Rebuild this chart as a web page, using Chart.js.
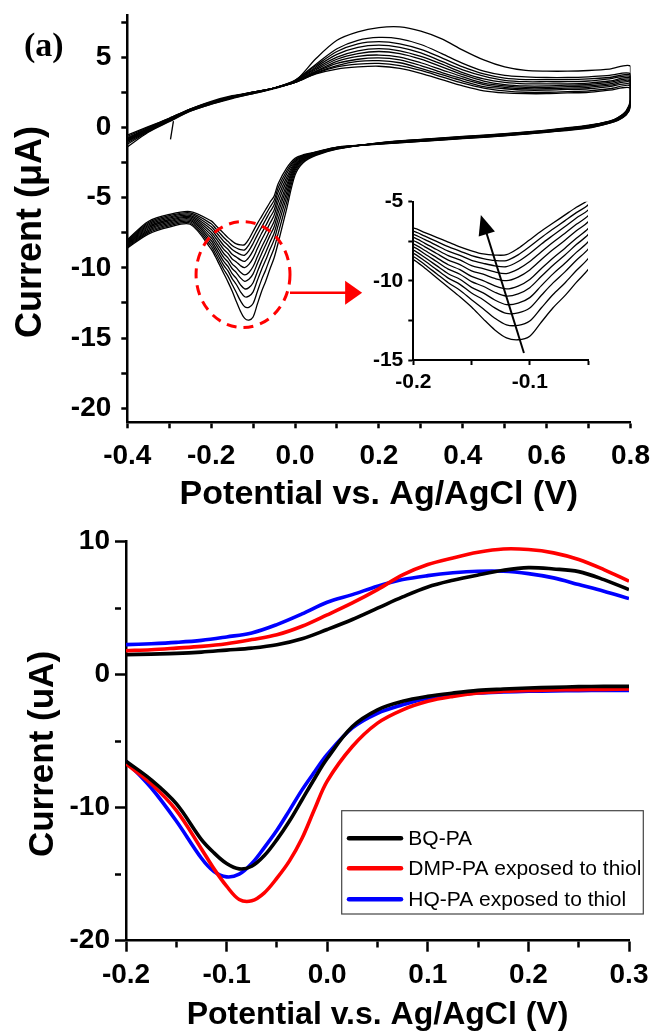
<!DOCTYPE html>
<html>
<head>
<meta charset="utf-8">
<script src="https://cdn.jsdelivr.net/npm/chart.js@4.4.1/dist/chart.umd.min.js"></script>
<style>
html,body{margin:0;padding:0;background:#fff;}
body{width:655px;height:1032px;position:relative;overflow:hidden;}
canvas{position:absolute;}
</style>
</head>
<body>
<canvas id="topChart" width="655" height="520" style="left:0;top:0"></canvas>
<canvas id="insetChart" width="260" height="210" style="left:340px;top:190px"></canvas>
<canvas id="bottomChart" width="655" height="512" style="left:0;top:520px"></canvas>
<script>
// ---------------- DATA: panel (a), repeated CV cycles ----------------
const topUpPotential = [-0.4,-0.35,-0.3,-0.25,-0.2,-0.15,-0.1,-0.05,0,0.05,0.1,0.15,0.2,0.25,0.3,0.35,0.4,0.45,0.5,0.55,0.6,0.65,0.7,0.75,0.8];
const topDownPotential = [0.8,0.79,0.77,0.75,0.7,0.6,0.5,0.4,0.3,0.2,0.1,0.05,0.02,0,-0.02,-0.04,-0.05,-0.06,-0.07,-0.08,-0.09,-0.1,-0.11,-0.12,-0.13,-0.14,-0.15,-0.16,-0.17,-0.18,-0.19,-0.2,-0.25,-0.3,-0.35,-0.4];

const cycleUpCurrents = [
  [-1.4,-0.35,0.4,1.15,1.65,2.05,2.4,2.75,3.3,4.9,6.2,6.8,7.1,7.15,6.85,6.3,5.5,4.8,4.3,4.05,4.0,4.0,4.05,4.15,4.35],
  [-1.2,-0.3,0.45,1.15,1.65,2.1,2.4,2.8,3.35,4.5,5.6,6.2,6.4,6.3,5.9,5.25,4.55,4.0,3.7,3.6,3.55,3.55,3.6,3.7,3.8],
  [-1.1,-0.25,0.45,1.2,1.7,2.1,2.45,2.8,3.35,4.4,5.4,5.95,6.1,5.95,5.55,4.95,4.3,3.8,3.5,3.4,3.4,3.4,3.45,3.55,3.7],
  [-1.0,-0.2,0.5,1.2,1.7,2.1,2.45,2.8,3.3,4.3,5.2,5.7,5.85,5.7,5.3,4.7,4.1,3.65,3.35,3.25,3.25,3.25,3.3,3.45,3.6],
  [-0.95,-0.2,0.5,1.2,1.7,2.15,2.45,2.8,3.3,4.2,5.0,5.45,5.6,5.45,5.05,4.5,3.9,3.45,3.2,3.1,3.1,3.1,3.15,3.3,3.5],
  [-0.9,-0.15,0.55,1.25,1.75,2.15,2.45,2.8,3.25,4.1,4.85,5.25,5.4,5.25,4.85,4.3,3.75,3.3,3.05,2.95,2.95,3.0,3.05,3.2,3.4],
  [-0.85,-0.1,0.55,1.25,1.75,2.15,2.5,2.8,3.25,4.0,4.7,5.05,5.15,5.0,4.6,4.1,3.6,3.15,2.95,2.85,2.85,2.9,2.95,3.1,3.3],
  [-0.8,-0.1,0.6,1.25,1.75,2.2,2.5,2.8,3.2,3.95,4.55,4.85,4.95,4.8,4.4,3.9,3.45,3.05,2.85,2.75,2.75,2.8,2.85,3.0,3.2],
  [-0.75,-0.05,0.6,1.3,1.8,2.2,2.5,2.8,3.2,3.9,4.4,4.7,4.75,4.6,4.2,3.75,3.3,2.9,2.75,2.65,2.65,2.7,2.75,2.9,3.05],
  [-0.65,0.0,0.65,1.3,1.8,2.2,2.5,2.8,3.2,3.85,4.3,4.5,4.55,4.4,4.05,3.6,3.15,2.8,2.6,2.5,2.5,2.55,2.6,2.75,2.95],
  [-0.55,0.05,0.65,1.3,1.85,2.25,2.5,2.8,3.2,3.8,4.15,4.3,4.35,4.2,3.85,3.4,2.95,2.6,2.45,2.4,2.4,2.45,2.5,2.65,2.8]
];

const cycleDownCurrents = [
  [2.0,1.2,0.7,0.45,0.15,-0.2,-0.45,-0.65,-0.85,-1.1,-1.55,-2.0,-2.5,-3.4,-5.8,-8.2,-9.3,-10.1,-10.95,-11.7,-12.6,-13.5,-13.72,-13.6,-13.1,-12.4,-11.65,-11.0,-10.4,-9.8,-9.2,-8.66,-6.9,-7.1,-7.6,-8.6],
  [1.9,1.15,0.68,0.43,0.13,-0.22,-0.47,-0.67,-0.87,-1.11,-1.53,-1.96,-2.41,-3.21,-5.34,-7.53,-8.61,-9.35,-10.15,-10.86,-11.7,-12.54,-12.81,-12.78,-12.36,-11.76,-11.19,-10.59,-10.12,-9.55,-8.98,-8.46,-6.81,-7.01,-7.51,-8.54],
  [1.85,1.12,0.66,0.42,0.12,-0.23,-0.48,-0.68,-0.88,-1.12,-1.52,-1.93,-2.34,-3.05,-4.95,-6.95,-8.01,-8.7,-9.45,-10.13,-10.91,-11.71,-12.02,-12.06,-11.71,-11.19,-10.77,-10.22,-9.83,-9.29,-8.75,-8.26,-6.72,-6.92,-7.42,-8.48],
  [1.8,1.1,0.64,0.4,0.1,-0.25,-0.5,-0.7,-0.9,-1.13,-1.5,-1.9,-2.28,-2.92,-4.64,-6.5,-7.54,-8.2,-8.91,-9.56,-10.3,-11.06,-11.41,-11.5,-11.21,-10.76,-10.41,-9.9,-9.55,-9.04,-8.53,-8.06,-6.63,-6.83,-7.33,-8.42],
  [1.75,1.07,0.62,0.39,0.08,-0.26,-0.51,-0.71,-0.91,-1.14,-1.48,-1.87,-2.22,-2.8,-4.34,-6.07,-7.09,-7.71,-8.38,-9.01,-9.71,-10.43,-10.82,-10.96,-10.72,-10.34,-10.05,-9.58,-9.26,-8.78,-8.3,-7.86,-6.54,-6.74,-7.24,-8.36],
  [1.7,1.04,0.6,0.37,0.06,-0.28,-0.53,-0.73,-0.93,-1.15,-1.47,-1.85,-2.18,-2.69,-4.09,-5.71,-6.71,-7.31,-7.95,-8.55,-9.22,-9.91,-10.33,-10.51,-10.32,-9.99,-9.72,-9.29,-8.98,-8.53,-8.08,-7.66,-6.45,-6.65,-7.15,-8.3],
  [1.65,1.01,0.58,0.36,0.04,-0.29,-0.54,-0.74,-0.94,-1.16,-1.46,-1.83,-2.12,-2.58,-3.81,-5.3,-6.28,-6.84,-7.45,-8.02,-8.65,-9.31,-9.76,-9.99,-9.85,-9.58,-9.37,-8.97,-8.69,-8.27,-7.85,-7.46,-6.36,-6.56,-7.06,-8.24],
  [1.6,0.98,0.56,0.34,0.02,-0.31,-0.56,-0.76,-0.96,-1.17,-1.45,-1.81,-2.07,-2.47,-3.56,-4.94,-5.9,-6.43,-7.01,-7.56,-8.16,-8.78,-9.26,-9.54,-9.44,-9.23,-9.04,-8.68,-8.41,-8.02,-7.63,-7.26,-6.27,-6.47,-6.97,-8.18],
  [1.55,0.95,0.54,0.33,0.0,-0.32,-0.57,-0.77,-0.97,-1.18,-1.43,-1.79,-2.03,-2.37,-3.31,-4.59,-5.53,-6.03,-6.58,-7.12,-7.67,-8.27,-8.78,-9.1,-9.05,-8.89,-8.7,-8.39,-8.12,-7.76,-7.4,-7.06,-6.18,-6.38,-6.88,-8.12],
  [1.5,0.92,0.52,0.31,-0.02,-0.34,-0.59,-0.79,-0.99,-1.19,-1.42,-1.77,-1.99,-2.29,-3.11,-4.29,-5.21,-5.69,-6.21,-6.73,-7.26,-7.83,-8.36,-8.72,-8.71,-8.59,-8.41,-8.12,-7.84,-7.51,-7.18,-6.86,-6.09,-6.29,-6.79,-8.06],
  [1.45,0.9,0.5,0.3,-0.05,-0.35,-0.6,-0.8,-1.0,-1.2,-1.4,-1.75,-1.95,-2.2,-2.9,-4.0,-4.9,-5.35,-5.85,-6.35,-6.85,-7.4,-7.95,-8.35,-8.37,-8.3,-8.1,-7.85,-7.55,-7.25,-6.95,-6.66,-6.0,-6.2,-6.7,-8.0]
];

const startStubPotential = [-0.297,-0.29];
const startStubCurrent = [-0.85,0.45];

// tick values for panel (a)
const topXRange = [-0.4, 0.8];
const topYRange = [-21, 8];
const insetXRange = [-0.2, -0.05];
const insetYRange = [-15, -5];

// annotations of panel (a), in data units
const circleCenter = [-0.124, -10.48];
const circleRadius = [0.112, 3.77];
const redArrowFrom = [-0.012, -11.77];
const redArrowTo = [0.160, -11.77];
const insetArrowFrom = [-0.105, -14.56];
const insetArrowTo = [-0.142, -5.84];

// ---------------- DATA: lower panel ----------------
const bottomUpPotential = [-0.2,-0.175,-0.15,-0.125,-0.1,-0.075,-0.05,-0.025,0,0.025,0.05,0.075,0.1,0.125,0.15,0.175,0.2,0.225,0.25,0.275,0.3];
const bottomDownPotential = [0.3,0.275,0.25,0.225,0.2,0.175,0.15,0.125,0.1,0.075,0.05,0.025,0,-0.0125,-0.025,-0.0375,-0.05,-0.0625,-0.075,-0.0875,-0.1,-0.1125,-0.125,-0.15,-0.175,-0.2];
const seriesNames = ['BQ-PA','DMP-PA exposed to thiol','HQ-PA exposed to thiol'];
const seriesColors = ['#000000','#ff0000','#0000ff'];
const bqUp = [1.5,1.55,1.6,1.7,1.85,2.0,2.25,2.7,3.4,4.15,5.0,5.85,6.6,7.1,7.5,7.85,8.05,7.95,7.75,7.15,6.4];
const bqDown = [-0.88,-0.88,-0.9,-0.95,-1.0,-1.08,-1.18,-1.38,-1.63,-2.0,-2.64,-3.9,-6.3,-7.8,-9.4,-11.0,-12.4,-13.6,-14.4,-14.6,-14.2,-13.4,-12.4,-9.7,-7.9,-6.5];
const dmpUp = [1.8,1.88,2.0,2.13,2.33,2.64,3.0,3.64,4.5,5.4,6.4,7.5,8.28,8.78,9.2,9.45,9.41,9.16,8.66,7.9,7.03];
const dmpDown = [-1.08,-1.1,-1.12,-1.15,-1.18,-1.25,-1.38,-1.63,-2.0,-2.64,-3.64,-5.4,-8.0,-10.1,-12.3,-14.0,-15.3,-16.4,-17.0,-16.9,-15.9,-14.6,-13.1,-10.2,-8.2,-6.7];
const hqUp = [2.26,2.33,2.43,2.58,2.84,3.14,3.77,4.57,5.45,6.02,6.65,7.15,7.45,7.66,7.78,7.78,7.6,7.28,6.78,6.28,5.72];
const hqDown = [-1.18,-1.18,-1.2,-1.22,-1.25,-1.3,-1.38,-1.55,-1.76,-2.26,-2.9,-4.0,-6.0,-7.3,-8.66,-10.2,-11.7,-13.0,-14.2,-15.0,-15.2,-14.8,-13.8,-11.0,-8.5,-6.5];
const bottomXRange = [-0.2, 0.3];
const bottomYRange = [-20, 10];

// ---------------- helpers ----------------
const FAM = '"Liberation Sans", Arial, Helvetica, sans-serif';
const pts = (xs, ys) => xs.map((x, i) => ({x, y: ys[i]}));
function cycleData(k){ return pts(topUpPotential, cycleUpCurrents[k]).concat(pts(topDownPotential, cycleDownCurrents[k])); }
function cycleSets(width){
  const sets = cycleUpCurrents.map((u, k) => ({
    label: 'cycle ' + (k + 1), data: cycleData(k), showLine: true, borderColor: '#000',
    borderWidth: width, pointRadius: 0, tension: 0.3, fill: false
  }));
  sets.push({label: 'start', data: pts(startStubPotential, startStubCurrent), showLine: true, borderColor: '#000', borderWidth: width, pointRadius: 0});
  return sets;
}
const isMultiple = (v, step) => Math.abs(v / step - Math.round(v / step)) < 1e-6;
const fmt1 = v => (Math.round(v * 10) / 10 === 0 ? 0 : Math.round(v * 10) / 10).toFixed(1);

function axisStyle(opt){
  return {
    type: 'linear', min: opt.range[0], max: opt.range[1], position: opt.position,
    ticks: { stepSize: opt.step, includeBounds: false, autoSkip: false, maxRotation: 0, color: '#000',
      padding: opt.pad, font: {family: FAM, size: opt.fs, weight: 'bold'},
      callback: v => isMultiple(v, opt.labelStep) ? opt.fmt(v) : '' },
    grid: { drawOnChartArea: false, drawTicks: true, tickLength: opt.tl, tickWidth: opt.bw, tickColor: '#000',
      tickBorderDash: ctx => (opt.minorTl && ctx.tick && !isMultiple(ctx.tick.value, opt.labelStep)) ? [opt.minorTl, 60] : [] },
    border: { display: true, color: '#000', width: opt.bw },
    title: opt.title ? { display: true, text: opt.title, color: '#000',
      font: {family: FAM, size: opt.titleSize, weight: 'bold', lineHeight: 1}, padding: {top: 0, bottom: opt.titlePad} } : {display: false},
    afterFit: s => {
      if (opt.position === 'left') { s.width = opt.size; s.paddingTop = 0; s.paddingBottom = 0; }
      else { s.height = opt.size; s.paddingLeft = 0; s.paddingRight = 0; }
    }
  };
}

function rotatedText(ctx, text, x, y, font){
  ctx.save(); ctx.translate(x, y); ctx.rotate(-Math.PI / 2);
  ctx.font = font; ctx.fillStyle = '#000'; ctx.textAlign = 'center'; ctx.textBaseline = 'middle';
  ctx.fillText(text, 0, 0); ctx.restore();
}
function arrowHead(ctx, x1, y1, x2, y2, len, half, color){
  const a = Math.atan2(y2 - y1, x2 - x1);
  ctx.save(); ctx.fillStyle = color; ctx.beginPath();
  ctx.moveTo(x2, y2);
  ctx.lineTo(x2 - len * Math.cos(a) + half * Math.sin(a), y2 - len * Math.sin(a) - half * Math.cos(a));
  ctx.lineTo(x2 - len * Math.cos(a) - half * Math.sin(a), y2 - len * Math.sin(a) + half * Math.cos(a));
  ctx.closePath(); ctx.fill(); ctx.restore();
}

Chart.defaults.font.family = FAM;
Chart.defaults.color = '#000';

// ---------------- panel (a) ----------------
const topDecor = {
  id: 'topDecor',
  afterDraw(chart){
    const ctx = chart.ctx, xs = chart.scales.x, ys = chart.scales.y;
    rotatedText(ctx, 'Current (\u03bcA)', 31, 232, 'bold 36px ' + FAM);
    ctx.save(); ctx.font = 'bold 34px "Liberation Serif", "Times New Roman", serif';
    ctx.fillStyle = '#000'; ctx.textBaseline = 'alphabetic'; ctx.textAlign = 'left';
    ctx.fillText('(a)', 24, 56); ctx.restore();
    // dashed ellipse
    const cx = xs.getPixelForValue(circleCenter[0]), cy = ys.getPixelForValue(circleCenter[1]);
    const rx = Math.abs(xs.getPixelForValue(circleCenter[0] + circleRadius[0]) - cx);
    const ry = Math.abs(ys.getPixelForValue(circleCenter[1] + circleRadius[1]) - cy);
    ctx.save(); ctx.strokeStyle = '#ff0000'; ctx.lineWidth = 3; ctx.setLineDash([10, 7]);
    ctx.beginPath(); ctx.ellipse(cx, cy, rx, ry, 0, 0, Math.PI * 2); ctx.stroke(); ctx.restore();
    // red arrow
    const ax1 = xs.getPixelForValue(redArrowFrom[0]), ay1 = ys.getPixelForValue(redArrowFrom[1]);
    const ax2 = xs.getPixelForValue(redArrowTo[0]), ay2 = ys.getPixelForValue(redArrowTo[1]);
    ctx.save(); ctx.strokeStyle = '#ff0000'; ctx.lineWidth = 2.5; ctx.beginPath();
    ctx.moveTo(ax1, ay1); ctx.lineTo(ax2 - 15, ay2); ctx.stroke(); ctx.restore();
    arrowHead(ctx, ax1, ay1, ax2, ay2, 17, 12, '#ff0000');
  }
};

new Chart(document.getElementById('topChart'), {
  type: 'scatter',
  data: { datasets: cycleSets(1.3) },
  options: {
    responsive: false, animation: false, events: [], devicePixelRatio: 1,
    layout: { padding: {left: 0, right: 24.5, top: 15, bottom: 0} },
    plugins: { legend: {display: false}, tooltip: {enabled: false} },
    scales: {
      x: axisStyle({range: topXRange, position: 'bottom', step: 0.1, labelStep: 0.2, fmt: fmt1, pad: 11, fs: 28, tl: 6, bw: 2.5,
        title: 'Potential vs. Ag/AgCl (V)', titleSize: 34, titlePad: 8.5, size: 97.7}),
      y: axisStyle({range: topYRange, position: 'left', step: 2.5, labelStep: 5, fmt: v => String(Math.round(v)), pad: 10, fs: 28, tl: 6, bw: 2.5,
        size: 127.3})
    }
  },
  plugins: [topDecor]
});

// ---------------- inset ----------------
const insetDecor = {
  id: 'insetDecor',
  afterDatasetsDraw(chart){
    const ctx = chart.ctx, xs = chart.scales.x, ys = chart.scales.y;
    const x1 = xs.getPixelForValue(insetArrowFrom[0]), y1 = ys.getPixelForValue(insetArrowFrom[1]);
    const x2 = xs.getPixelForValue(insetArrowTo[0]), y2 = ys.getPixelForValue(insetArrowTo[1]);
    const a = Math.atan2(y2 - y1, x2 - x1);
    ctx.save(); ctx.strokeStyle = '#000'; ctx.lineWidth = 2; ctx.beginPath();
    ctx.moveTo(x1, y1); ctx.lineTo(x2 - 15 * Math.cos(a), y2 - 15 * Math.sin(a)); ctx.stroke(); ctx.restore();
    arrowHead(ctx, x1, y1, x2, y2, 20, 8.5, '#000');
  }
};
new Chart(document.getElementById('insetChart'), {
  type: 'scatter',
  data: { datasets: cycleSets(1.3) },
  options: {
    responsive: false, animation: false, events: [], devicePixelRatio: 1,
    layout: { padding: {left: 0, right: 12, top: 11.7, bottom: 0} },
    plugins: { legend: {display: false}, tooltip: {enabled: false} },
    scales: {
      x: axisStyle({range: insetXRange, position: 'bottom', step: 0.05, labelStep: 0.1, fmt: fmt1, pad: 5, fs: 21, tl: 5, bw: 2, size: 40}),
      y: axisStyle({range: insetYRange, position: 'left', step: 2.5, labelStep: 5, fmt: v => String(Math.round(v)), pad: 5, fs: 21, tl: 5, bw: 2, size: 73.3})
    }
  },
  plugins: [insetDecor]
});

// ---------------- lower panel ----------------
const bottomSeries = [[bqUp, bqDown], [dmpUp, dmpDown], [hqUp, hqDown]];
const bottomSets = [];
bottomSeries.forEach((s, i) => {
  [pts(bottomUpPotential, s[0]), pts(bottomDownPotential, s[1])].forEach(d => bottomSets.push({
    label: seriesNames[i], data: d, showLine: true, borderColor: seriesColors[i], borderWidth: 3.6,
    pointRadius: 0, tension: 0.35, fill: false
  }));
});

const bottomDecor = {
  id: 'bottomDecor',
  afterDraw(chart){
    const ctx = chart.ctx;
    rotatedText(ctx, 'Current (uA)', 43, 234, 'bold 35px ' + FAM);
    // legend box
    ctx.save();
    ctx.strokeStyle = '#444'; ctx.lineWidth = 1.2;
    ctx.strokeRect(341.7, 290.7, 301.6, 103.3);
    ctx.font = '21px ' + FAM; ctx.textBaseline = 'middle'; ctx.textAlign = 'left';
    const rows = [318.3, 348.3, 379.3];
    seriesNames.forEach((name, i) => {
      ctx.strokeStyle = seriesColors[i]; ctx.lineWidth = 4.5; ctx.lineCap = 'round';
      ctx.beginPath(); ctx.moveTo(349, rows[i]); ctx.lineTo(401, rows[i]); ctx.stroke();
      ctx.fillStyle = '#000'; ctx.fillText(name, 408.3, rows[i] + 1);
    });
    ctx.restore();
  }
};

new Chart(document.getElementById('bottomChart'), {
  type: 'scatter',
  data: { datasets: bottomSets },
  options: {
    responsive: false, animation: false, events: [], devicePixelRatio: 1,
    layout: { padding: {left: 0, right: 26, top: 21.7, bottom: 0} },
    plugins: { legend: {display: false}, tooltip: {enabled: false} },
    scales: {
      x: axisStyle({range: bottomXRange, position: 'bottom', step: 0.05, labelStep: 0.1, fmt: fmt1, pad: 7, fs: 28, tl: 11, minorTl: 6, bw: 2.5,
        title: 'Potential v.s. Ag/AgCl (V)', titleSize: 32, titlePad: 1, size: 91.3}),
      y: axisStyle({range: bottomYRange, position: 'left', step: 5, labelStep: 10, fmt: v => String(Math.round(v)), pad: 5, fs: 28, tl: 11, minorTl: 6, bw: 2.5,
        size: 126})
    }
  },
  plugins: [bottomDecor]
});
</script>
</body>
</html>
